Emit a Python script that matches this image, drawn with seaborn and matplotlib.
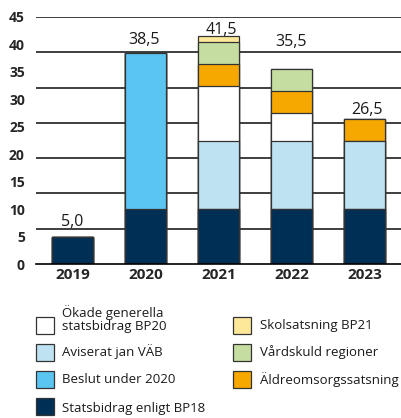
import matplotlib
matplotlib.use("Agg")
import matplotlib.pyplot as plt
from matplotlib.patches import Rectangle
import seaborn as sns
import numpy as np
import pandas as pd

# ---- data ----
years = ["2019", "2020", "2021", "2022", "2023"]
series = ["Statsbidrag enligt BP18", "Beslut under 2020", "Aviserat jan VÄB",
          "Ökade generella\nstatsbidrag BP20", "Äldreomsorgssatsning",
          "Vårdskuld regioner", "Skolsatsning BP21"]
bp18 = [5.0, 10.0, 10.0, 10.0, 10.0]
beslut2020 = [0.0, 28.5, 0.0, 0.0, 0.0]
aviserat = [0.0, 0.0, 12.5, 12.5, 12.5]
okade = [0.0, 0.0, 10.0, 5.0, 0.0]
aldre = [0.0, 0.0, 4.0, 4.0, 4.0]
vardskuld = [0.0, 0.0, 4.0, 4.0, 0.0]
skol = [0.0, 0.0, 1.0, 0.0, 0.0]
total_labels = ["5,0", "38,5", "41,5", "35,5", "26,5"]
y_ticks = [0, 5, 10, 15, 20, 25, 30, 35, 40, 45]

colors = {
    "Statsbidrag enligt BP18": "#002F56",
    "Beslut under 2020": "#5BC5F2",
    "Aviserat jan VÄB": "#BEE2F2",
    "Ökade generella\nstatsbidrag BP20": "#FFFFFF",
    "Äldreomsorgssatsning": "#F6A800",
    "Vårdskuld regioner": "#C5DDA0",
    "Skolsatsning BP21": "#FDE89A",
}

layers = [bp18, beslut2020, aviserat, okade, aldre, vardskuld, skol]
cum = np.cumsum(np.array(layers), axis=0)

sns.set_theme(style="white")
plt.rcParams["font.family"] = ["Open Sans", "DejaVu Sans"]

W, H = 401, 418
fig = plt.figure(figsize=(W / 100, H / 100), dpi=100)
ax = fig.add_axes([36 / W, (H - 264) / H, (W - 36) / W, 247 / H])

# draw cumulative bars from top layer down so lower segments overlay
for i in range(len(series) - 1, -1, -1):
    df = pd.DataFrame({"year": years, "value": cum[i]})
    sns.barplot(data=df, x="year", y="value", order=years, color=colors[series[i]],
                saturation=1, width=0.56, edgecolor="#333333", linewidth=0.9,
                ax=ax, zorder=2)

# gridlines (original chart draws 7 equal divisions of 0..45)
for k in range(1, 8):
    ax.axhline(k * 45 / 7, color="#1e1e1e", lw=1.2, zorder=0.5)

ax.set_xlim(-0.5, 4.5)
ax.set_ylim(0, 45)
ax.set_yticks(y_ticks)
ax.set_yticklabels([str(t) for t in y_ticks], fontweight="bold", fontsize=10)
ax.set_xticks(range(len(years)))
ax.set_xticklabels(years, fontweight="bold", fontsize=11)
ax.tick_params(axis="y", length=0, pad=8)
ax.tick_params(axis="x", length=0, pad=3)
ax.set_xlabel("")
ax.set_ylabel("")
for s in ["top", "right", "left"]:
    ax.spines[s].set_visible(False)
ax.spines["bottom"].set_color("black")
ax.spines["bottom"].set_linewidth(1.2)
ax.spines["bottom"].set_zorder(3)

# value labels above bars
label_offsets_px = [11, 9, 2.5, 23, 5]
label_dx_px = [0, -1, 2.5, 0, 3]
totals = cum[-1]
for i, (t, lab) in enumerate(zip(totals, total_labels)):
    ax.annotate(lab, (i, t), xytext=(label_dx_px[i] * 0.72, label_offsets_px[i] * 0.72),
                textcoords="offset points", ha="center", va="baseline",
                fontsize=11.5, color="#1a1a1a")

# ---- manual legend (figure pixel coordinates) ----
def fx(px):
    return px / W

def fy(py):
    return 1 - py / H

legend_left = ["Ökade generella\nstatsbidrag BP20", "Aviserat jan VÄB",
               "Beslut under 2020", "Statsbidrag enligt BP18"]
legend_right = ["Skolsatsning BP21", "Vårdskuld regioner", "Äldreomsorgssatsning"]
row_centers = [325, 352, 379.5, 406.5]
text_centers_left = [319, 352, 379.5, 408.5]
bw, bh = 18, 17
for name, yc, ty in zip(legend_left, row_centers, text_centers_left):
    fig.patches.append(Rectangle((fx(36), fy(yc + bh / 2)), bw / W, bh / H,
                                 transform=fig.transFigure, facecolor=colors[name],
                                 edgecolor="#333333", lw=0.9))
    fig.text(fx(62), fy(ty), name, ha="left", va="center", fontsize=9.5,
             color="#1a1a1a", linespacing=1.05)
for name, yc in zip(legend_right, row_centers):
    fig.patches.append(Rectangle((fx(233), fy(yc + bh / 2)), bw / W, bh / H,
                                 transform=fig.transFigure, facecolor=colors[name],
                                 edgecolor="#333333", lw=0.9))
    fig.text(fx(260), fy(yc), name, ha="left", va="center", fontsize=9.5,
             color="#1a1a1a")

fig.savefig("out.png", dpi=100)
